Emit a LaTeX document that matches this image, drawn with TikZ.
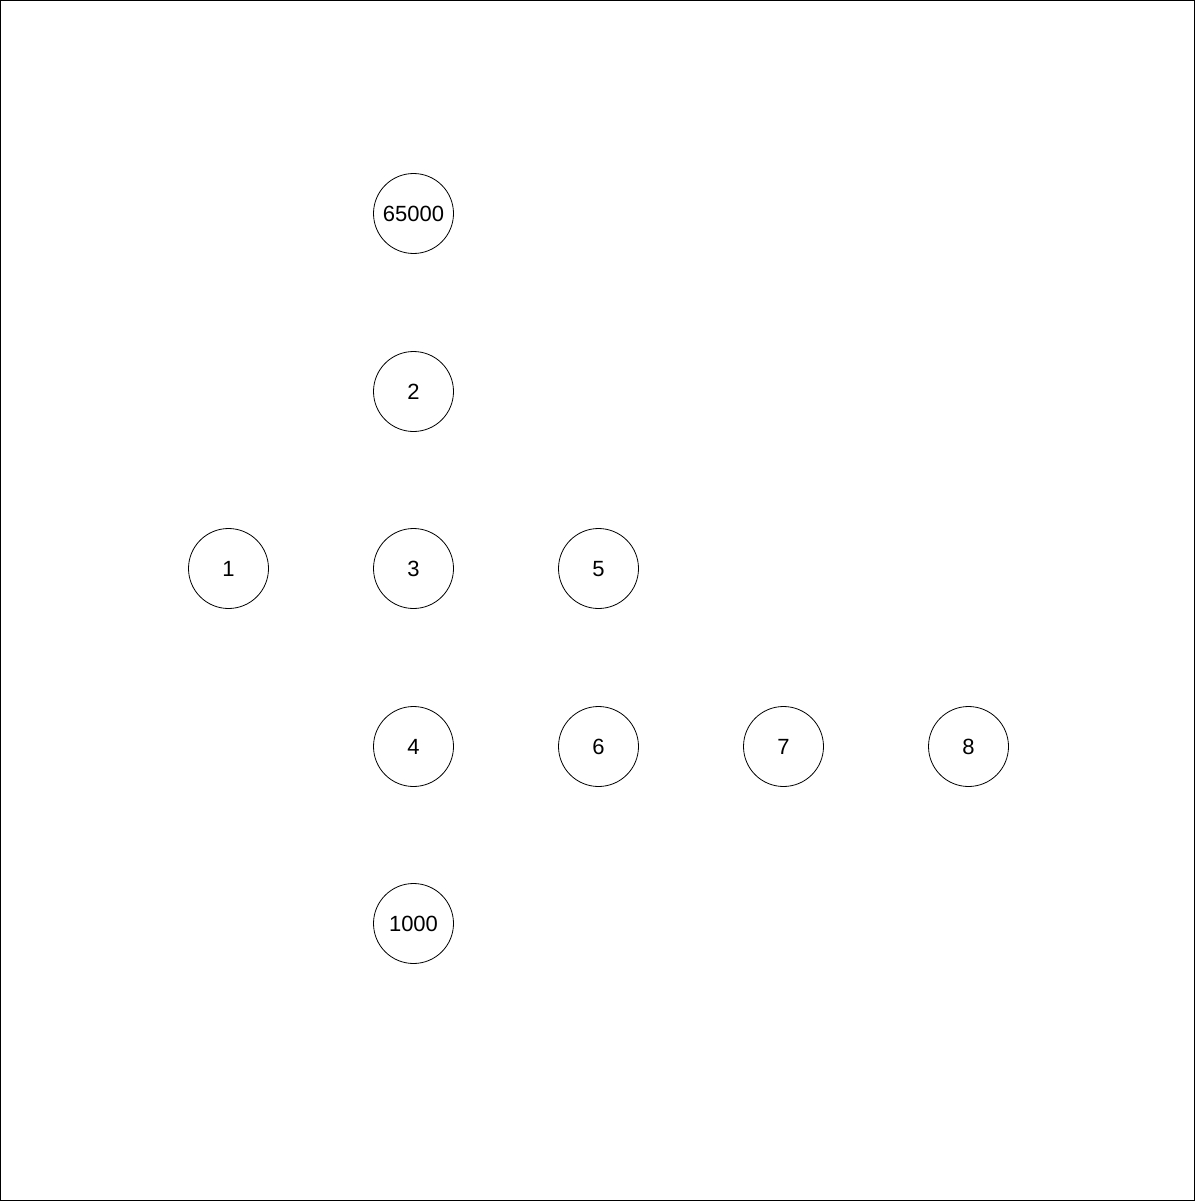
\documentclass[tikz,border=0pt]{standalone}
\usepackage{fontspec}
\setmainfont{Liberation Sans}
\begin{document}
\begin{tikzpicture}[x=1pt,y=-1pt,
  circ/.style={draw,circle,minimum size=80pt,inner sep=0pt,line width=0.8pt,text height=15.8pt,text depth=0pt,font=\fontsize{22}{26}\selectfont}]
\useasboundingbox (0,0) rectangle (1195,1201);
\draw[line width=1.2pt] (0.6,0.6) rectangle (1194.4,1200.4);
\node[circ] (n65000) at (413.5,213.5) {65000};
\node[circ] (n2) at (413.5,391.5) {2};
\node[circ] (n1) at (228.5,568.5) {1};
\node[circ] (n3) at (413.5,568.5) {3};
\node[circ] (n5) at (598.5,568.5) {5};
\node[circ] (n4) at (413.5,746.5) {4};
\node[circ] (n6) at (598.5,746.5) {6};
\node[circ] (n7) at (783.5,746.5) {7};
\node[circ] (n8) at (968.5,746.5) {8};
\node[circ] (n1000) at (413.5,923.5) {1000};
\end{tikzpicture}
\end{document}
